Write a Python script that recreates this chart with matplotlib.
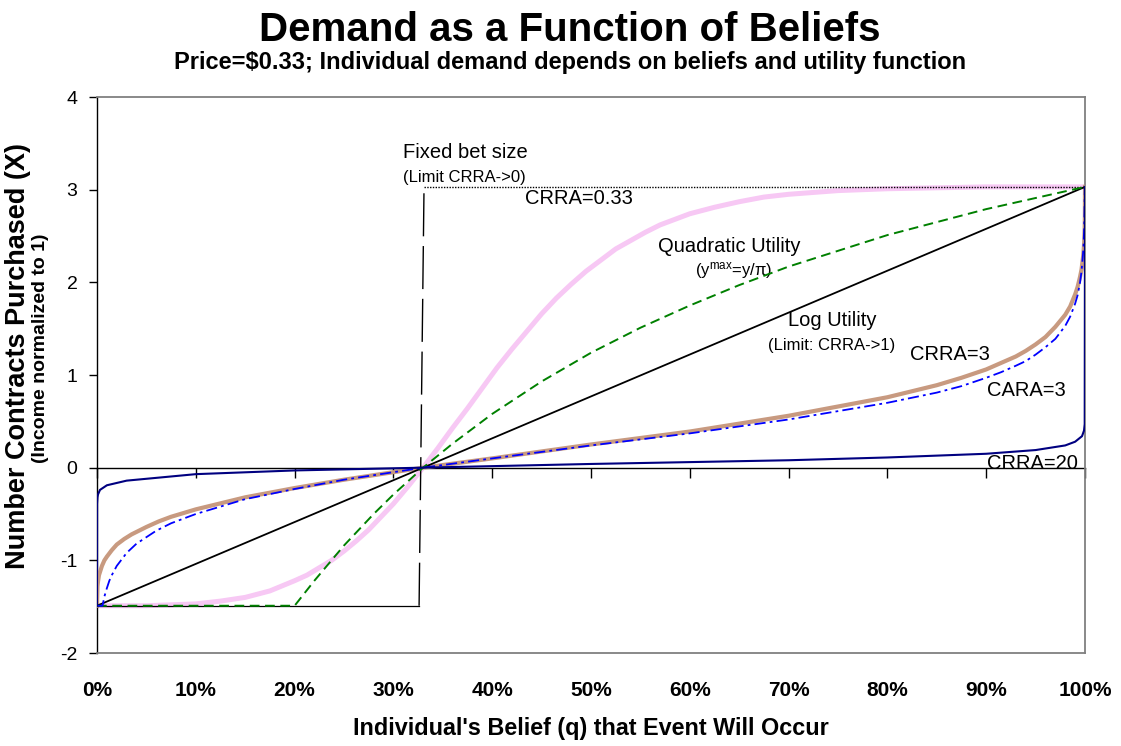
import matplotlib
matplotlib.use("Agg")
import matplotlib.pyplot as plt

plt.rcParams['font.family'] = ['Liberation Sans', 'DejaVu Sans']
plt.rcParams['axes.unicode_minus'] = False
plt.rcParams['mathtext.default'] = 'regular'
plt.rcParams['lines.scale_dashes'] = False

# belief q (x) and contracts purchased X (y)
pink_q = [0, 0.05, 0.075, 0.1, 0.125, 0.15, 0.175, 0.2, 0.2125, 0.225, 0.2375,
          0.25, 0.2625, 0.275, 0.2875, 0.3, 0.315, 0.33, 0.345, 0.36, 0.375,
          0.39, 0.405, 0.42, 0.435, 0.45, 0.465, 0.48, 0.495, 0.51, 0.525, 0.54,
          0.555, 0.57, 0.585, 0.6, 0.625, 0.65, 0.675, 0.7, 0.725, 0.75, 0.8,
          0.85, 0.9, 1.0]
pink_x = [-1.49, -1.49, -1.48, -1.47, -1.44, -1.40, -1.33, -1.22, -1.16, -1.08,
          -1.00, -0.90, -0.79, -0.67, -0.53, -0.39, -0.20, 0.0, 0.21, 0.43, 0.64,
          0.86, 1.08, 1.28, 1.47, 1.66, 1.83, 1.98, 2.12, 2.24, 2.36, 2.45, 2.54,
          2.62, 2.68, 2.74, 2.81, 2.87, 2.92, 2.95, 2.97, 2.99, 3.01, 3.02, 3.03,
          3.03]

quad_q = [0, 0.2, 0.22, 0.25, 0.28, 0.3, 0.33, 0.36, 0.4, 0.45, 0.5, 0.55, 0.6,
          0.65, 0.7, 0.75, 0.8, 0.85, 0.9, 0.95, 1.0]
quad_x = [-1.49, -1.49, -1.22, -0.84, -0.50, -0.29, 0.0, 0.26, 0.58, 0.93, 1.24,
          1.51, 1.75, 1.97, 2.17, 2.34, 2.51, 2.65, 2.79, 2.91, 3.03]

log_q = [0, 0.33, 1.0]
log_x = [-1.49, 0.0, 3.03]

crra3_q = [0, 0.0005, 0.001, 0.002, 0.005, 0.0075, 0.01, 0.015, 0.02, 0.0275,
           0.035, 0.05, 0.0625, 0.075, 0.1, 0.15, 0.2, 0.25, 0.33, 0.4, 0.5, 0.6,
           0.7, 0.8, 0.85, 0.875, 0.9, 0.915, 0.93, 0.94, 0.95, 0.96, 0.97, 0.98,
           0.985, 0.99, 0.9925, 0.995, 0.9965, 0.998, 0.9985, 0.999, 0.9993,
           0.9997, 0.9999, 1.0]
crra3_x = [-1.49, -1.28, -1.23, -1.16, -1.06, -1.00, -0.96, -0.89, -0.83, -0.77,
           -0.72, -0.64, -0.58, -0.53, -0.45, -0.32, -0.22, -0.13, 0.0, 0.10,
           0.25, 0.39, 0.56, 0.76, 0.89, 0.97, 1.06, 1.13, 1.20, 1.26, 1.33, 1.41,
           1.52, 1.65, 1.74, 1.87, 1.95, 2.06, 2.14, 2.27, 2.33, 2.40, 2.47, 2.59,
           2.72, 3.03]

cara_q = [0, 0.0056, 0.0075, 0.01, 0.0125, 0.015, 0.02, 0.025, 0.03, 0.04, 0.05,
          0.06, 0.075, 0.1, 0.15, 0.2, 0.25, 0.33, 0.4, 0.5, 0.6, 0.7, 0.8, 0.85,
          0.875, 0.9, 0.915, 0.93, 0.94, 0.95, 0.96, 0.97, 0.98, 0.985, 0.99,
          0.9925, 0.995, 0.9965, 0.998, 0.9985, 0.999, 0.9995, 0.9998, 1.0]
cara_x = [-1.49, -1.49, -1.39, -1.30, -1.22, -1.16, -1.06, -0.99, -0.92, -0.82,
          -0.75, -0.68, -0.60, -0.50, -0.34, -0.23, -0.13, 0.0, 0.10, 0.24, 0.37,
          0.52, 0.70, 0.81, 0.88, 0.97, 1.03, 1.10, 1.15, 1.22, 1.30, 1.39, 1.53,
          1.63, 1.77, 1.86, 2.00, 2.12, 2.31, 2.40, 2.54, 2.77, 3.03, 3.03]

crra20_q = [0, 0.0001, 0.0005, 0.001, 0.003, 0.01, 0.03, 0.1, 0.2, 0.33, 0.5,
            0.7, 0.8, 0.9, 0.95, 0.98, 0.99, 0.997, 0.999, 0.9997, 1.0]
crra20_x = [-1.49, -0.39, -0.32, -0.29, -0.24, -0.19, -0.14, -0.07, -0.03, 0.0,
            0.04, 0.08, 0.11, 0.15, 0.19, 0.24, 0.28, 0.34, 0.40, 0.47, 3.03]

fixed_q = [0, 0.326, 0.331, 1.0]
fixed_x = [-1.49, -1.49, 3.03, 3.03]

x_ticks = [0, 0.1, 0.2, 0.3, 0.4, 0.5, 0.6, 0.7, 0.8, 0.9, 1.0]
x_labels = ['0%', '10%', '20%', '30%', '40%', '50%', '60%', '70%', '80%', '90%', '100%']
y_ticks = [-2, -1, 0, 1, 2, 3, 4]

fig = plt.figure(figsize=(11.21, 7.46), dpi=100)
ax = fig.add_axes([97 / 1121, 93 / 746, 988 / 1121, 556 / 746])

ax.plot(pink_q, pink_x, color='#F7C8F4', lw=3.6, solid_capstyle='butt', zorder=2)
ax.plot(crra3_q, crra3_x, color='#C89A80', lw=3.0, zorder=3)
ax.plot(fixed_q[:2], fixed_x[:2], color='black', lw=0.9, zorder=3)
ax.plot(fixed_q[1:3], fixed_x[1:3], color='black', lw=1.0, dashes=(31, 7), zorder=3)
ax.plot(fixed_q[2:], fixed_x[2:], color='black', lw=1.0, dashes=(1, 1), zorder=3)
ax.plot(log_q, log_x, color='black', lw=1.3, zorder=4)
ax.plot(quad_q, quad_x, color='#008000', lw=1.4, dashes=(7, 4), zorder=4)
ax.plot(cara_q, cara_x, color='#0000FF', lw=1.3, dashes=(8, 3, 2, 3), zorder=5)
ax.plot(crra20_q, crra20_x, color='#000080', lw=1.5, zorder=5)

ax.set_xlim(0, 1)
ax.set_ylim(-2, 4)
ax.set_yticks(y_ticks)
ax.set_yticklabels([str(t) for t in y_ticks], fontsize=14)
ax.tick_params(axis='y', direction='out', length=6, width=1, pad=8)
ax.set_xticks(x_ticks)
ax.set_xticklabels(x_labels, fontsize=15, fontweight='bold')
ax.tick_params(axis='x', length=0, pad=20)

for side in ['top', 'right', 'bottom']:
    ax.spines[side].set_color('#808080')
    ax.spines[side].set_linewidth(1.3)
ax.spines['left'].set_color('black')
ax.spines['left'].set_linewidth(1.0)

# category axis crossing at zero
sec = ax.secondary_xaxis(1 / 3)
sec.set_alignment('bottom')
sec.set_xticks(x_ticks)
sec.set_xticklabels([])
sec.tick_params(direction='out', length=7, width=1, color='black')
sec.spines['bottom'].set_color('black')
sec.spines['bottom'].set_linewidth(1.0)

ax.text(0.310, 3.40, 'Fixed bet size', fontsize=14.5, va='center')
ax.text(0.310, 3.13, '(Limit CRRA->0)', fontsize=12, va='center')
ax.text(0.433, 2.91, 'CRRA=0.33', fontsize=14.5, va='center')
ax.text(0.568, 2.39, 'Quadratic Utility', fontsize=14.5, va='center')
ax.text(0.605, 2.13, '(y$^{max}$=y/\u03c0)', fontsize=12, va='center')
ax.text(0.699, 1.59, 'Log Utility', fontsize=14.5, va='center')
ax.text(0.679, 1.32, '(Limit: CRRA->1)', fontsize=12, va='center')
ax.text(0.823, 1.22, 'CRRA=3', fontsize=14.5, va='center')
ax.text(0.901, 0.83, 'CARA=3', fontsize=14.5, va='center')
ax.text(0.901, 0.05, 'CRRA=20', fontsize=14.5, va='center')

fig.text(570 / 1121, 1 - 30 / 746, 'Demand as a Function of Beliefs',
         fontsize=29, fontweight='bold', ha='center', va='center')
fig.text(570 / 1121, 1 - 63 / 746,
         'Price=$0.33; Individual demand depends on beliefs and utility function',
         fontsize=17, fontweight='bold', ha='center', va='center')
fig.text(591 / 1121, 1 - 729 / 746, "Individual's Belief (q) that Event Will Occur",
         fontsize=16.8, fontweight='bold', ha='center', va='center')
fig.text(18 / 1121, 1 - 356 / 746, 'Number Contracts Purchased (X)',
         fontsize=19.5, fontweight='bold', rotation=90, ha='center', va='center')
fig.text(41 / 1121, 1 - 348 / 746, '(Income normalized to 1)',
         fontsize=14, fontweight='bold', rotation=90, ha='center', va='center')

fig.savefig('out.png', dpi=100)
